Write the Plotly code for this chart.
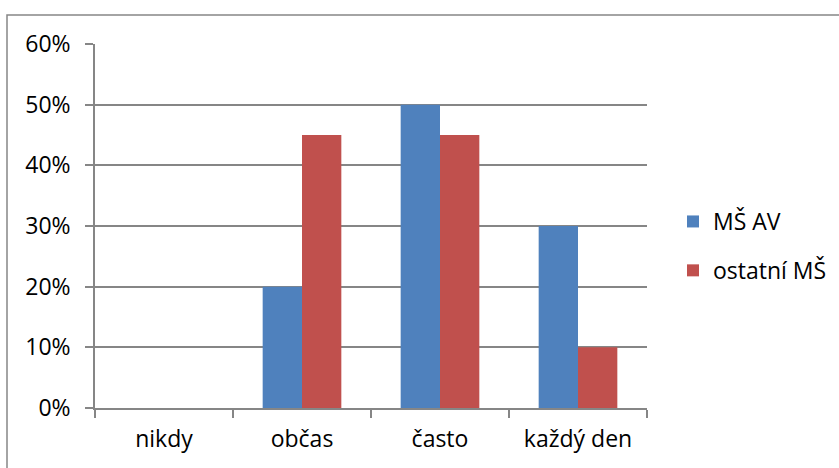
import plotly.graph_objects as go

categories = ["nikdy", "občas", "často", "každý den"]
ms_av = [0, 20, 50, 30]
ostatni_ms = [0, 45, 45, 10]
y_ticks = [0, 10, 20, 30, 40, 50, 60]

W, H = 839, 468
L, R, T, B = 95, 192, 44, 60
pw, ph = W - L - R, H - T - B

font = dict(family="Open Sans, Liberation Sans, sans-serif", size=23, color="#000000")
grid = "#868686"

fig = go.Figure()
fig.add_trace(go.Bar(x=categories, y=ms_av, name="MŠ AV", marker_color="#4F81BD",
                     marker_line_width=0, legendgroup="a"))
fig.add_trace(go.Bar(x=categories, y=ostatni_ms, name="ostatní MŠ", marker_color="#C0504D",
                     marker_line_width=0, legendgroup="b"))

def px_x(p):
    return (p - L) / pw

def px_y(p):
    return (H - B - p) / ph

# outer chart frame
fig.add_shape(type="rect", xref="paper", yref="paper",
              x0=px_x(7), x1=px_x(850), y0=px_y(15), y1=px_y(480),
              line=dict(color=grid, width=1.5), fillcolor="rgba(0,0,0,0)", layer="below")

fig.update_layout(
    width=W, height=H,
    margin=dict(l=L, r=R, t=T, b=B, pad=0, autoexpand=False),
    paper_bgcolor="white", plot_bgcolor="white",
    font=font,
    barmode="group", bargap=0.43, bargroupgap=0,
    showlegend=True,
    legend=dict(x=px_x(673), y=px_y(200), xanchor="left", yanchor="top",
                font=font, traceorder="grouped", tracegroupgap=16,
                bgcolor="rgba(0,0,0,0)"),
    xaxis=dict(showline=True, linecolor=grid, linewidth=1.5, ticks="outside",
               tickson="boundaries", ticklen=8, tickcolor=grid, tickwidth=1.5,
               showgrid=False, tickfont=font, ticklabelstandoff=10),
    yaxis=dict(range=[0, 60], tickvals=y_ticks, ticktext=[f"{v}%" for v in y_ticks],
               showline=True, linecolor=grid, linewidth=1.5, ticks="outside",
               ticklen=8, tickcolor=grid, tickwidth=1.5,
               showgrid=True, gridcolor=grid, gridwidth=1.5, zeroline=False,
               tickfont=font, ticklabelstandoff=10),
)

fig.write_html("out.html")
